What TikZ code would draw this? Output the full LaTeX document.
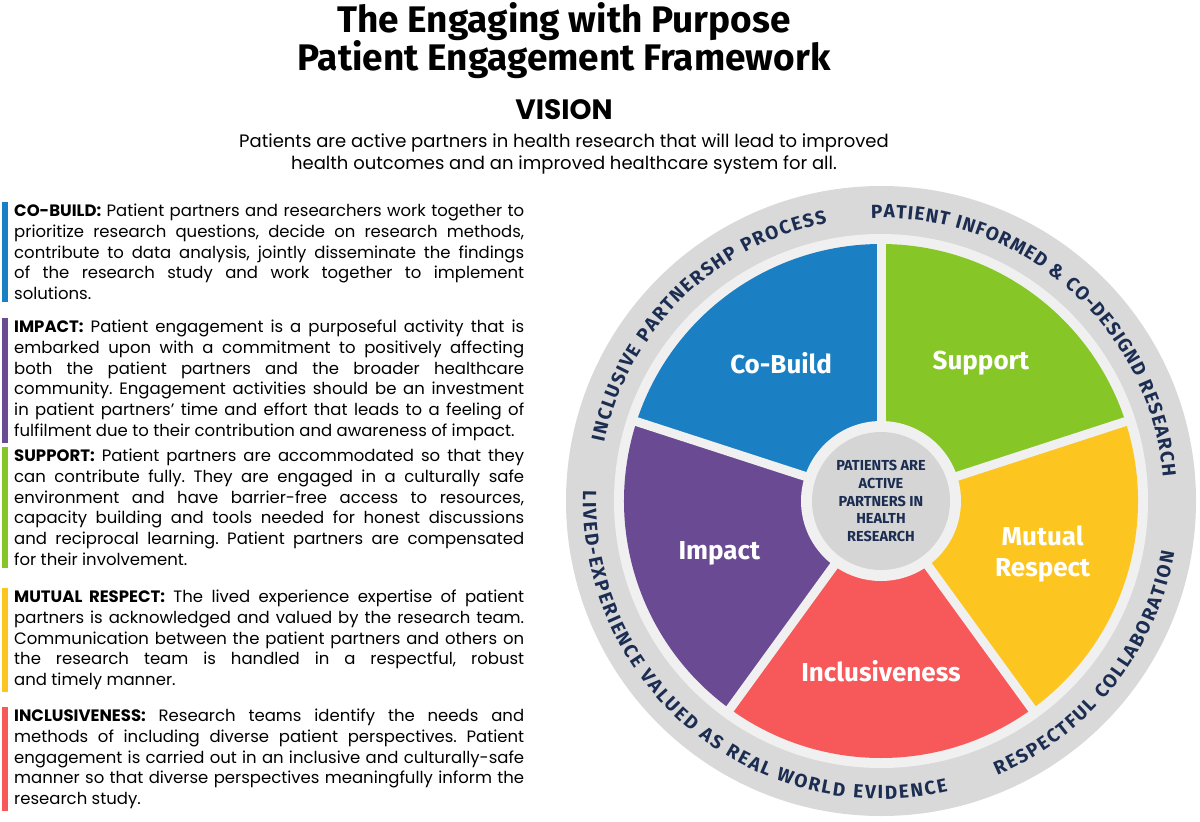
\documentclass[tikz,border=0pt]{standalone}
\usepackage{fontspec}
\setmainfont{Poppins}
\newfontfamily\wheelfont{Fira Sans}
\usepackage{xcolor}
\usetikzlibrary{positioning, decorations.text}
\definecolor{cobuildblue}{HTML}{1B7FC4}
\definecolor{impactpurple}{HTML}{6A4A92}
\definecolor{supportgreen}{HTML}{86C627}
\definecolor{respectyellow}{HTML}{FDC520}
\definecolor{inclusivered}{HTML}{F7585A}
\definecolor{ringgrey}{HTML}{D9D9D9}
\definecolor{gapgrey}{HTML}{F0F0F0}
\definecolor{hubgrey}{HTML}{D5D5D5}
\definecolor{ringnavy}{HTML}{1C2D52}
\frenchspacing
\newcommand\ringfont{\wheelfont\bfseries\fontsize{19}{19}\selectfont\color{ringnavy}}
\tikzset{
    x=1pt, y=1pt, % one unit is one pixel of the original
    textblock/.style={anchor=north west, inner sep=0pt, text width=510pt, align=justify,
        font=\fontsize{16.5}{20.7}\selectfont}, % the left hand column
    sectorlabel/.style={text=white, font=\wheelfont\bfseries\fontsize{26}{31}\selectfont, align=center},
    ringtext/.style={decorate, decoration={text along path, text align={fit to path},
        text={|\ringfont|#1}}}, % words round the grey band
}
\def\wheelcenter{(881,-501)}
\begin{document}
\begin{tikzpicture}
    \fill[white] (0,0) rectangle (1200,-822);
    \useasboundingbox (0,0) rectangle (1200,-822);

    % heading
    \node[anchor=base, font=\wheelfont\bfseries\fontsize{37}{38}\selectfont] (titletop) at (564,-32) {The Engaging with Purpose};
    \node[anchor=base, font=\wheelfont\bfseries\fontsize{37}{38}\selectfont] (titlebottom) at ([yshift=-38pt]titletop.base) {Patient Engagement Framework};
    \node[anchor=base, font=\bfseries\fontsize{28}{30}\selectfont] (vision) at (564,-119) {VISION};
    \node[anchor=north, inner sep=0pt, align=center, font=\fontsize{18}{22}\selectfont] (visiontext) at (564,-134)
        {Patients are active partners in health research that will lead to improved\\health outcomes and an improved healthcare system for all.};

    % left column
    \node[textblock] (cobuild) at (14,-204) {\textbf{CO-BUILD:} Patient partners and researchers work together to\linebreak
        prioritize research questions, decide on research methods,\linebreak
        contribute to data analysis, jointly disseminate the findings\linebreak
        of the research study and work together to implement\linebreak
        solutions.};
    \node[textblock] (impact) at (14,-320) {\textbf{IMPACT:} Patient engagement is a purposeful activity that is\linebreak
        embarked upon with a commitment to positively affecting\linebreak
        both the patient partners and the broader healthcare\linebreak
        community. Engagement activities should be an investment\linebreak
        in patient partners’ time and effort that leads to a feeling of\linebreak
        fulfilment due to their contribution and awareness of impact.};
    \node[textblock] (support) at (14,-449) {\textbf{SUPPORT:} Patient partners are accommodated so that they\linebreak
        can contribute fully. They are engaged in a culturally safe\linebreak
        environment and have barrier-free access to resources,\linebreak
        capacity building and tools needed for honest discussions\linebreak
        and reciprocal learning. Patient partners are compensated\linebreak
        for their involvement.};
    \node[textblock] (respect) at (14,-590) {\textbf{MUTUAL RESPECT:} The lived experience expertise of patient\linebreak
        partners is acknowledged and valued by the research team.\linebreak
        Communication between the patient partners and others on\linebreak
        the research team is handled in a respectful, robust\linebreak
        and timely manner.};
    \node[textblock] (inclusive) at (14,-709) {\textbf{INCLUSIVENESS:} Research teams identify the needs and\linebreak
        methods of including diverse patient perspectives. Patient\linebreak
        engagement is carried out in an inclusive and culturally-safe\linebreak
        manner so that diverse perspectives meaningfully inform the\linebreak
        research study.};
    \foreach \blk/\col in {cobuild/cobuildblue, impact/impactpurple, support/supportgreen, respect/respectyellow, inclusive/inclusivered}
        \fill[\col] ([shift={(-12,2)}]\blk.north west) rectangle ([shift={(-6,-2)}]\blk.south west);

    % the wheel
    \fill[ringgrey] \wheelcenter circle (315);
    \fill[gapgrey] \wheelcenter circle (267);
    \foreach \start/\col in {90/cobuildblue, 162/impactpurple, 234/inclusivered, 306/respectyellow, 18/supportgreen}
        \fill[\col] \wheelcenter -- ++(\start:257) arc[start angle=\start, delta angle=72, radius=257] -- cycle;
    \foreach \a in {18,90,162,234,306}
        \draw[gapgrey, line width=9] \wheelcenter -- ++(\a:262);
    \fill[gapgrey] \wheelcenter circle (80);
    \node[circle, fill=hubgrey, minimum size=138, inner sep=0pt, align=center, text=ringnavy,
        font=\wheelfont\bfseries\fontsize{14.5}{17.8}\selectfont] (hub) at \wheelcenter
        {PATIENTS ARE\\ACTIVE\\PARTNERS IN\\HEALTH\\RESEARCH};

    \node[sectorlabel] (cobuildlbl) at ([shift={(126:170)}]hub.center) {Co-Build};
    \node[sectorlabel] (supportlbl) at ([shift={(54:170)}]hub.center) {Support};
    \node[sectorlabel] (impactlbl) at ([shift={(198:170)}]hub.center) {Impact};
    \node[sectorlabel] (respectlbl) at ([shift={(342:170)}]hub.center) {Mutual\\Respect};
    \node[sectorlabel] (inclusivelbl) at ([shift={(270:170)}]hub.center) {Inclusiveness};

    % band texts
    \path[ringtext={INCLUSIVE PARTNERSHP PROCESS}] \wheelcenter ++(168:283) arc[start angle=168, end angle=101, radius=283];
    \path[ringtext={PATIENT INFORMED {\&} CO-DESIGND RESEARCH}] \wheelcenter ++(92:283) arc[start angle=92, end angle=5, radius=283];
    \path[ringtext={LIVED-EXPERIENCE VALUED AS REAL WORLD EVIDENCE}] \wheelcenter ++(178:298) arc[start angle=178, end angle=283, radius=298];
    \path[ringtext={RESPECTFUL COLLABORATION}] \wheelcenter ++(293:298) arc[start angle=293, end angle=350, radius=298];
\end{tikzpicture}
\end{document}
